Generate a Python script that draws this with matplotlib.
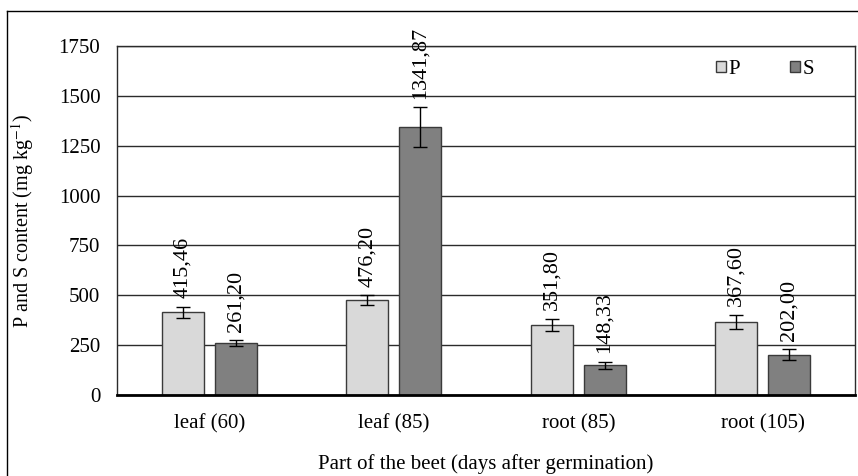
import matplotlib
matplotlib.use("Agg")
import matplotlib.pyplot as plt
from matplotlib.lines import Line2D
import numpy as np

# data
categories = ["leaf (60)", "leaf (85)", "root (85)", "root (105)"]
p_values = [415.46, 476.20, 351.80, 367.60]
s_values = [261.20, 1341.87, 148.33, 202.00]
p_err = [27, 23, 31, 36]
s_err = [15, 100, 18, 29]
p_labels = ["415,46", "476,20", "351,80", "367,60"]
s_labels = ["261,20", "1341,87", "148,33", "202,00"]
yticks = [0, 250, 500, 750, 1000, 1250, 1500, 1750]

plt.rcParams['font.family'] = ['Liberation Serif', 'DejaVu Serif']
plt.rcParams['mathtext.fontset'] = 'stix'
plt.rcParams['font.size'] = 15

W, H = 858, 476
fig = plt.figure(figsize=(W / 100, H / 100), dpi=100)
ax = fig.add_axes([117 / W, 1 - 395 / H, (855 - 117) / W, (395 - 46) / H])

x = np.arange(len(categories))
off = 0.143
bw = 0.228

ax.set_axisbelow(True)
ax.yaxis.grid(True, color="#2b2b2b", lw=1.0)

ax.bar(x - off, p_values, bw, color="#d9d9d9", edgecolor="#3a3a3a", lw=1.0, label="P")
ax.bar(x + off, s_values, bw, color="#808080", edgecolor="#3a3a3a", lw=1.0, label="S")
ax.errorbar(x - off, p_values, yerr=p_err, fmt="none", ecolor="black", elinewidth=1, capsize=5, capthick=1)
ax.errorbar(x + off, s_values, yerr=s_err, fmt="none", ecolor="black", elinewidth=1, capsize=5, capthick=1)

for xi, v, e, lab in zip(x - off, p_values, p_err, p_labels):
    ax.annotate(lab, (xi, v + e), xytext=(0, 6), textcoords="offset points",
                rotation=90, ha="center", va="bottom", fontsize=16, annotation_clip=False)
for xi, v, e, lab in zip(x + off, s_values, s_err, s_labels):
    ax.annotate(lab, (xi, v + e), xytext=(0, 6), textcoords="offset points",
                rotation=90, ha="center", va="bottom", fontsize=16, annotation_clip=False)

ax.set_xlim(-0.5, 3.5)
ax.set_ylim(0, 1750)
ax.set_yticks(yticks)
ax.set_xticks(x)
ax.set_xticklabels(categories)
ax.tick_params(axis="both", length=0, labelsize=15)
ax.tick_params(axis="x", pad=14)
ax.tick_params(axis="y", pad=12)

for s in ["top", "right", "left"]:
    ax.spines[s].set_color("#2b2b2b")
    ax.spines[s].set_linewidth(1.0)
ax.spines["bottom"].set_color("black")
ax.spines["bottom"].set_linewidth(2.0)

ax.set_ylabel("P and S content (mg kg$^{-1}$)", fontsize=14.5)
ax.yaxis.set_label_coords(-(117 - 36) / (855 - 117), 0.5)
fig.text(486 / W, 1 - 464 / H, "Part of the beet (days after germination)",
         ha="center", va="center", fontsize=15)

ax.legend(loc="upper right", bbox_to_anchor=(0.962, 0.995), ncol=2, frameon=False,
          handlelength=0.45, handleheight=0.45, handletextpad=0.15, columnspacing=2.4,
          fontsize=15, borderaxespad=0.2)

# outer border (left and top visible)
fig.add_artist(Line2D([7 / W, 7 / W], [0, 1 - 11 / H], color="black", lw=1.0))
fig.add_artist(Line2D([7 / W, 1], [1 - 11 / H, 1 - 11 / H], color="black", lw=1.0))

fig.savefig("out.png", dpi=100)
